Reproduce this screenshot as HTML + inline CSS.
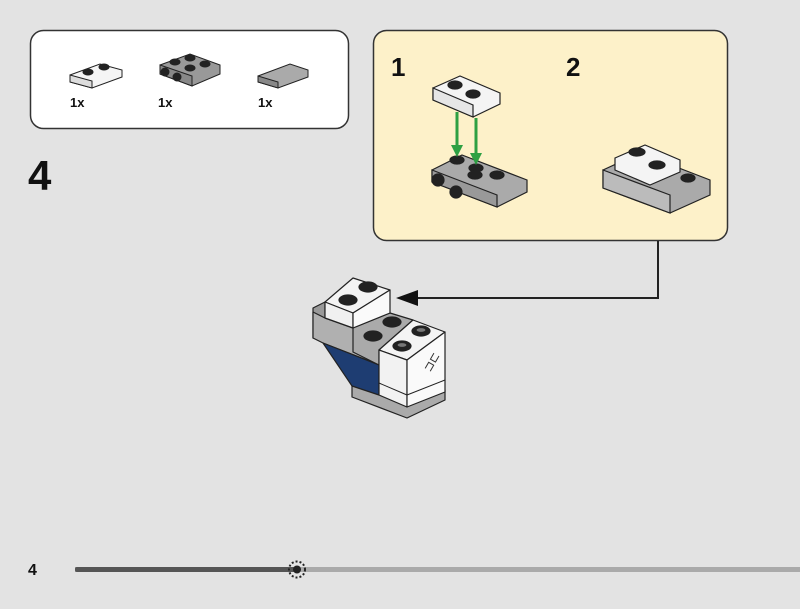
<!DOCTYPE html>
<html><head><style>
body{margin:0;width:800px;height:604px;background:#e3e3e3;overflow:hidden;font-family:"Liberation Sans",sans-serif}
</style></head><body>
<svg width="800" height="604" viewBox="0 0 800 604" xmlns="http://www.w3.org/2000/svg" font-family="Liberation Sans, sans-serif">
<rect width="800" height="604" fill="#e3e3e3"/>
<!-- parts box -->
<rect x="30.5" y="30.5" width="318" height="98" rx="13" fill="#fff" stroke="#333" stroke-width="1.5"/>
<g stroke="#222" stroke-width="1">
<polygon points="70,75 100,64 122,70 122,77 92,88 70,82" fill="#f5f5f5"/>
<polygon points="70,75 92,81 92,88 70,82" fill="#ddd"/>
<ellipse cx="88" cy="72" rx="5" ry="3" fill="#222"/><ellipse cx="104" cy="67" rx="5" ry="3" fill="#222"/>
<polygon points="160,65 190,54 220,65 220,74 192,86 160,74" fill="#999"/>
<polygon points="160,65 192,76 192,86 160,74" fill="#888"/>
<ellipse cx="175" cy="62" rx="5" ry="3" fill="#222"/><ellipse cx="190" cy="58" rx="5" ry="3" fill="#222"/><ellipse cx="190" cy="68" rx="5" ry="3" fill="#222"/><ellipse cx="205" cy="64" rx="5" ry="3" fill="#222"/>
<circle cx="165" cy="72" r="4" fill="#222"/><circle cx="177" cy="77" r="4" fill="#222"/>
<polygon points="258,76 290,64 308,70 308,77 278,88 258,82" fill="#aaa"/>
<polygon points="258,76 278,82 278,88 258,82" fill="#888"/>
</g>
<g font-size="13" font-weight="bold" fill="#111">
<text x="70" y="107">1x</text><text x="158" y="107">1x</text><text x="258" y="107">1x</text>
</g>
<text x="28" y="190" font-size="42" font-weight="bold" fill="#111">4</text>
<!-- callout -->
<rect x="373.5" y="30.5" width="354" height="210" rx="13" fill="#fdf1c9" stroke="#333" stroke-width="1.5"/>
<text x="391" y="76" font-size="26" font-weight="bold" fill="#111">1</text>
<text x="566" y="76" font-size="26" font-weight="bold" fill="#111">2</text>
<g stroke="#222" stroke-width="1.2">
<polygon points="433,88 460,76 500,93 500,104 473,117 433,100" fill="#f4f4f4"/>
<polygon points="433,88 473,105 473,117 433,100" fill="#e6e6e6"/>
<ellipse cx="455" cy="85" rx="7" ry="4" fill="#222"/><ellipse cx="473" cy="94" rx="7" ry="4" fill="#222"/>
<polygon points="432,170 462,155 527,180 527,192 497,207 432,182" fill="#aaa"/>
<polygon points="432,170 497,195 497,207 432,182" fill="#999"/>
<ellipse cx="457" cy="160" rx="7" ry="4" fill="#222"/><ellipse cx="476" cy="168" rx="7" ry="4" fill="#222"/><ellipse cx="475" cy="175" rx="7" ry="4" fill="#222"/><ellipse cx="497" cy="175" rx="7" ry="4" fill="#222"/>
<circle cx="438" cy="180" r="6" fill="#222"/><circle cx="456" cy="192" r="6" fill="#222"/>
<polygon points="603,170 640,153 710,180 710,195 670,213 603,188" fill="#aaa"/>
<polygon points="603,170 670,195 670,213 603,188" fill="#bbb"/>
<polygon points="615,158 645,145 680,160 680,172 650,185 615,170" fill="#f4f4f4"/>
<ellipse cx="637" cy="152" rx="8" ry="4" fill="#222"/><ellipse cx="657" cy="165" rx="8" ry="4" fill="#222"/><ellipse cx="688" cy="178" rx="7" ry="4" fill="#222"/>
</g>
<g stroke="#2ea043" stroke-width="3" fill="#2ea043">
<line x1="457" y1="112" x2="457" y2="150"/><polygon points="451,145 463,145 457,157" stroke="none"/>
<line x1="476" y1="118" x2="476" y2="158"/><polygon points="470,153 482,153 476,165" stroke="none"/>
</g>
<!-- connector -->
<polyline points="658,241 658,298 410,298" fill="none" stroke="#222" stroke-width="2"/>
<polygon points="396,298 418,290 418,306" fill="#111"/>
<!-- main model -->
<g stroke="#222" stroke-width="1.2" stroke-linejoin="round">
<!-- bottom grey band -->
<polygon points="352,385 379,393 407,405 445,390 445,400 407,418 352,397" fill="#aaa"/>
<!-- left grey sliver and band -->
<polygon points="313,308 325,302 325,318 313,338" fill="#999"/>
<polygon points="313,312 325,318 353,328 380,318 380,365 323,343 313,338" fill="#b0b0b0"/>
<!-- blue -->
<polygon points="323,343 379,365 379,395 352,386" fill="#1e3d72"/>
<!-- middle grey plate top -->
<polygon points="353,328 390,313 413,320 379,350 379,365 353,352" fill="#aaa"/>
<ellipse cx="373" cy="336" rx="9" ry="5" fill="#222"/><ellipse cx="392" cy="322" rx="9" ry="5" fill="#222"/>
<!-- white block -->
<polygon points="379,350 413,320 445,332 407,360" fill="#f4f4f4"/>
<polygon points="379,350 407,360 407,407 379,395" fill="#f2f2f2"/>
<polygon points="407,360 445,332 445,392 407,407" fill="#fafafa"/>
<line x1="379" y1="383" x2="407" y2="395" stroke-width="1"/>
<line x1="407" y1="395" x2="445" y2="380" stroke-width="1"/>
<ellipse cx="402" cy="346" rx="9" ry="5" fill="#222"/><ellipse cx="421" cy="331" rx="9" ry="5" fill="#222"/>
<ellipse cx="402" cy="345" rx="5" ry="2.5" fill="#777"/><ellipse cx="421" cy="330" rx="5" ry="2.5" fill="#777"/>
<!-- top white plate -->
<polygon points="325,302 353,278 390,290 353,313" fill="#f4f4f4"/>
<polygon points="325,302 353,313 353,328 325,318" fill="#f0f0f0"/>
<polygon points="353,313 390,290 390,313 353,328" fill="#fafafa"/>
<ellipse cx="348" cy="300" rx="9" ry="5" fill="#222"/><ellipse cx="368" cy="287" rx="9" ry="5" fill="#222"/>
<text x="425" y="372" font-size="12" fill="#333" stroke="none" transform="rotate(-60 428 368)">⊐⊏</text>
</g>
<!-- footer -->
<text x="28" y="575" font-size="16" font-weight="bold" fill="#111">4</text>
<rect x="75" y="567" width="725" height="5" fill="#aaa"/>
<rect x="75" y="567" width="222" height="5" rx="2" fill="#555"/>
<circle cx="297" cy="569.5" r="8" fill="none" stroke="#222" stroke-width="2" stroke-dasharray="2 2"/>
<circle cx="297" cy="569.5" r="4" fill="#222"/>
</svg>
</body></html>
